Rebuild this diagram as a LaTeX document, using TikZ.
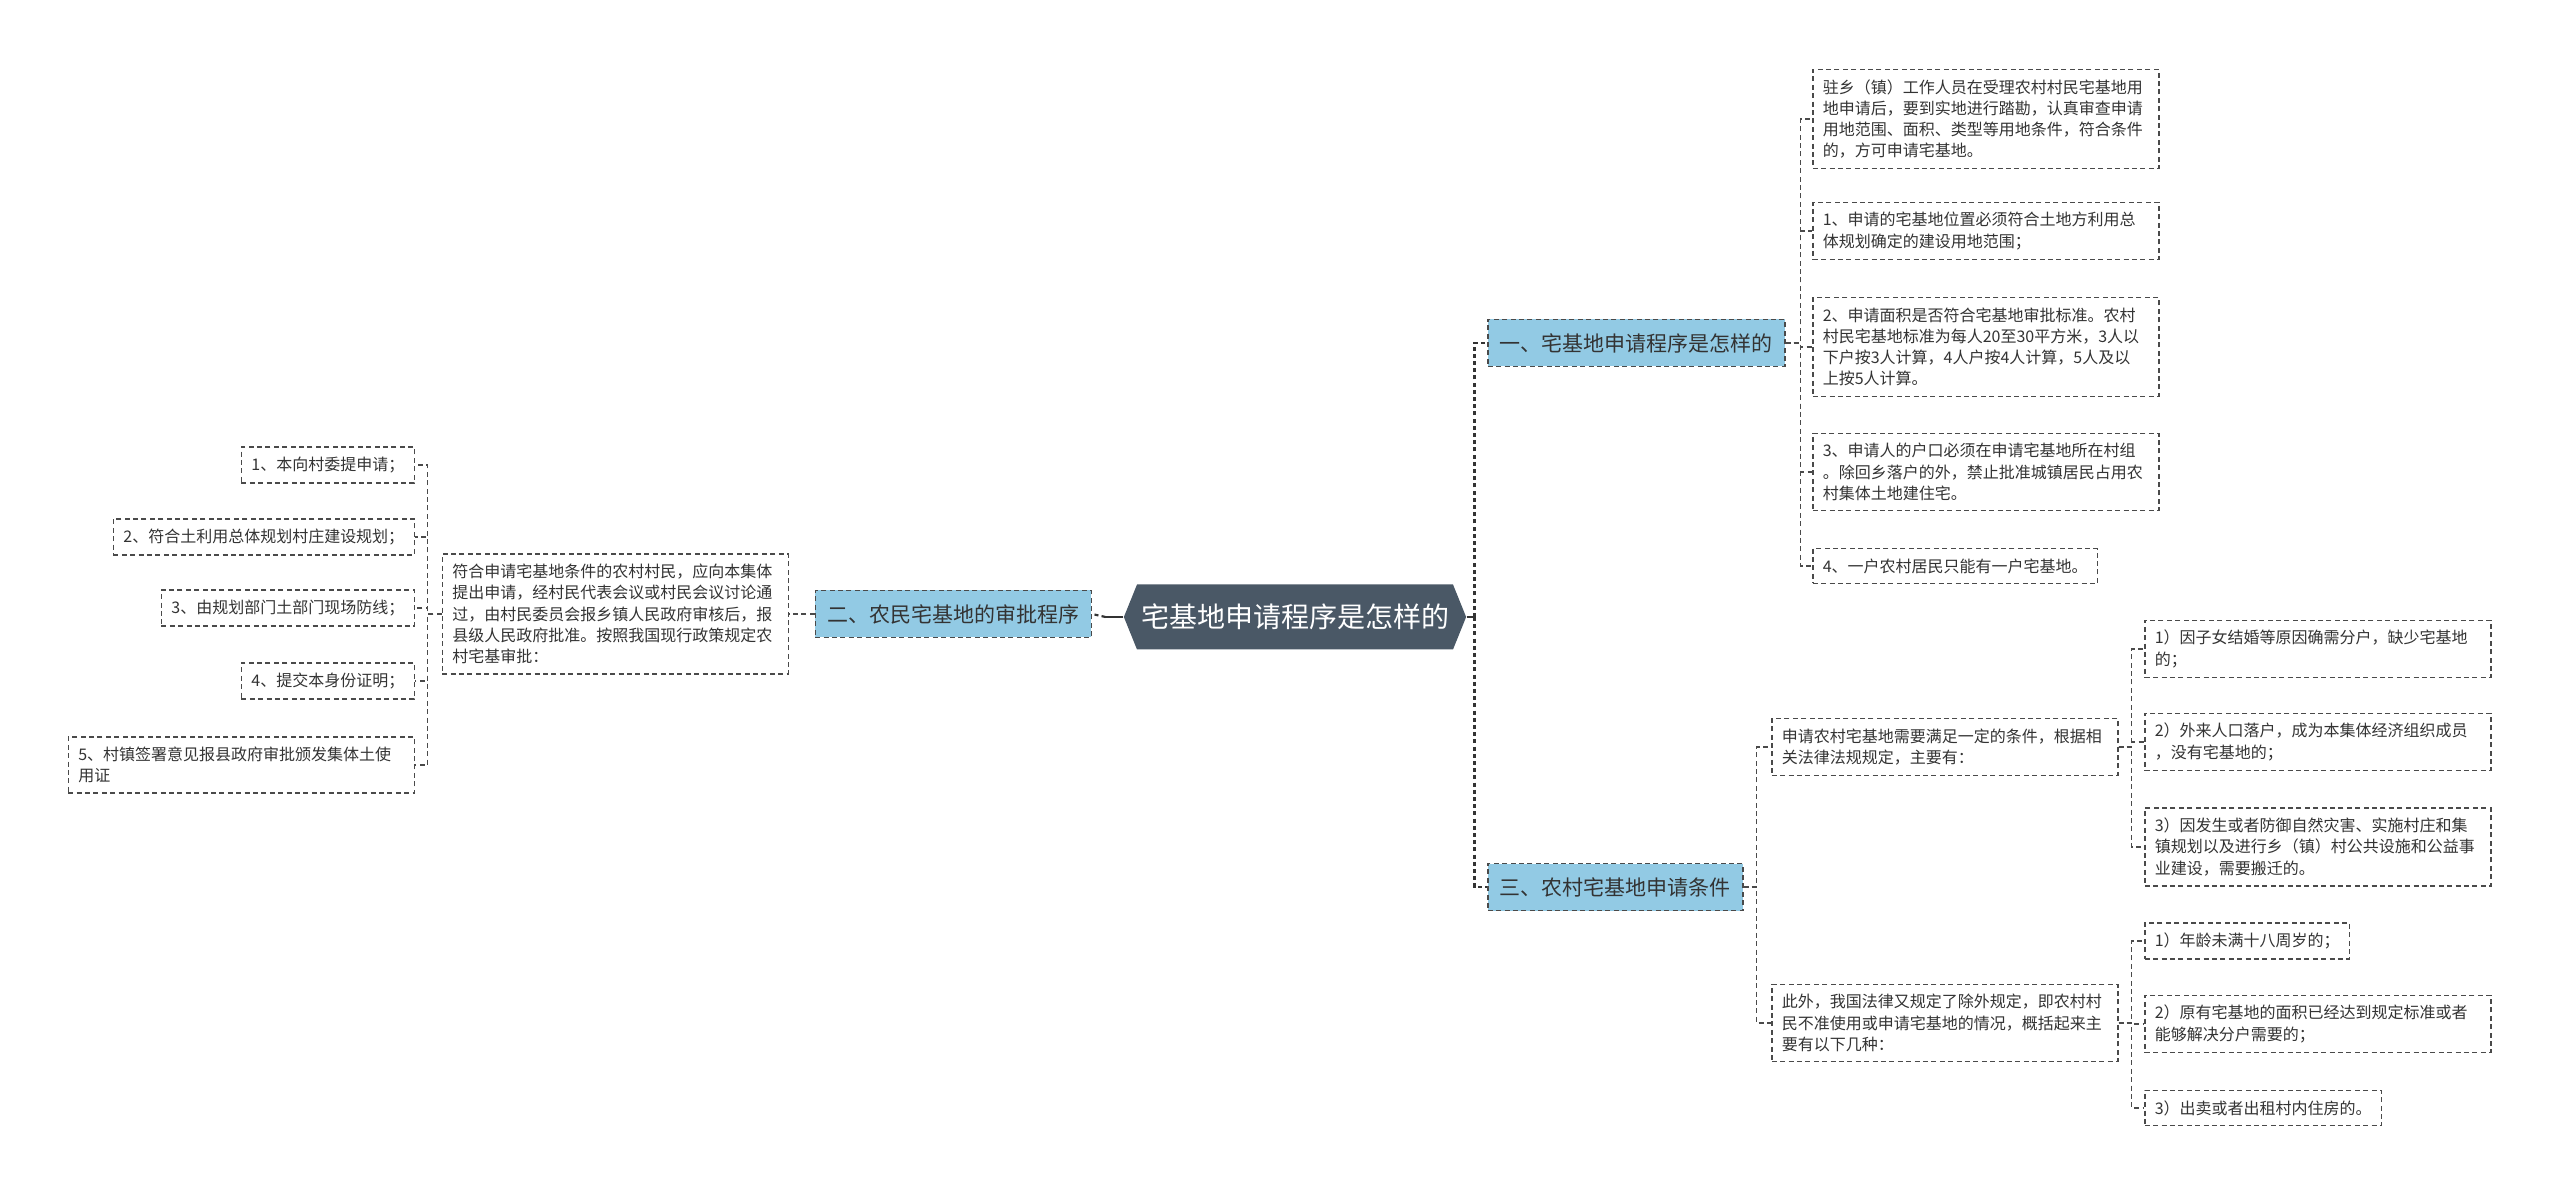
\documentclass[tikz,border=0pt]{standalone}
\usepackage{fontspec}
\setmainfont{Noto Sans CJK SC}
\usetikzlibrary{shapes.symbols, positioning}
\definecolor{rootfill}{HTML}{4A5866}
\definecolor{branchfill}{HTML}{92CAE4}
\definecolor{inkgray}{HTML}{333333}
\definecolor{linegray}{HTML}{4A4A4A}
\tikzset{%
  % Specifications for style of nodes:
  base/.style = {draw=linegray, dash pattern=on 2.5pt off 1.7pt, line width=0.75pt,
                 text=inkgray, align=left},
  root/.style = {shape=signal, signal to=west and east, signal pointer angle=136,
                 fill=rootfill, text=white, font=\fontsize{14}{16}\selectfont,
                 minimum height=32.5pt, inner xsep=2pt},
  branch/.style = {base, fill=branchfill, font=\fontsize{10.5}{12}\selectfont,
                   inner xsep=6pt, minimum height=23.5pt},
  leaf/.style = {base, fill=white, font=\fontsize{8}{10.6}\selectfont,
                 inner xsep=5pt, inner ysep=5pt},
  wide/.style = {leaf, text width=163pt},
  % connectors
  link/.style = {draw=linegray, dash pattern=on 2.5pt off 1.7pt, line width=0.75pt},
  trunk/.style = {draw=inkgray, dash pattern=on 2pt off 1.6pt, line width=1.1pt},
  stem/.style = {draw=inkgray, line width=1pt},
}

\begin{document}
\begin{tikzpicture}[x=0.5pt, y=-0.5pt]
  \fill[white] (0,0) rectangle (2560,1197);
  \useasboundingbox (0,0) rectangle (2560,1197);

  % centre and the three branches
  \node (root) [root] at (1295,617) {宅基地申请程序是怎样的};
  \node (b1) [branch, anchor=west] at (1487,343) {一、宅基地申请程序是怎样的};
  \node (b2) [branch, anchor=east] at (1092,614) {二、农民宅基地的审批程序};
  \node (b3) [branch, anchor=west] at (1487,887) {三、农村宅基地申请条件};

  % branch one
  \node (c1a) [wide, anchor=west] at (1812,119) {驻乡（镇）工作人员在受理农村村民宅基地用\\地申请后，要到实地进行踏勘，认真审查申请\\用地范围、面积、类型等用地条件，符合条件\\的，方可申请宅基地。};
  \node (c1b) [wide, anchor=west] at (1812,231) {1、申请的宅基地位置必须符合土地方利用总\\体规划确定的建设用地范围；};
  \node (c1c) [wide, anchor=west] at (1812,347) {2、申请面积是否符合宅基地审批标准。农村\\村民宅基地标准为每人20至30平方米，3人以\\下户按3人计算，4人户按4人计算，5人及以\\上按5人计算。};
  \node (c1d) [wide, anchor=west] at (1812,472) {3、申请人的户口必须在申请宅基地所在村组\\。除回乡落户的外，禁止批准城镇居民占用农\\村集体土地建住宅。};
  \node (c1e) [leaf, anchor=west] at (1812,566) {4、一户农村居民只能有一户宅基地。};

  % branch two
  \node (big) [wide, anchor=east] at (789,614) {符合申请宅基地条件的农村村民，应向本集体\\提出申请，经村民代表会议或村民会议讨论通\\过，由村民委员会报乡镇人民政府审核后，报\\县级人民政府批准。按照我国现行政策规定农\\村宅基审批：};
  \node (l1) [leaf, anchor=east] at (415,465) {1、本向村委提申请；};
  \node (l2) [leaf, anchor=east] at (415,537) {2、符合土利用总体规划村庄建设规划；};
  \node (l3) [leaf, anchor=east] at (415,608) {3、由规划部门土部门现场防线；};
  \node (l4) [leaf, anchor=east] at (415,681) {4、提交本身份证明；};
  \node (l5) [wide, anchor=east] at (415,765) {5、村镇签署意见报县政府审批颁发集体土使\\用证};

  % branch three
  \node (m1) [wide, anchor=west] at (1771,747) {申请农村宅基地需要满足一定的条件，根据相\\关法律法规规定，主要有：};
  \node (m2) [wide, anchor=west] at (1771,1023) {此外，我国法律又规定了除外规定，即农村村\\民不准使用或申请宅基地的情况，概括起来主\\要有以下几种：};
  \node (n1) [wide, anchor=west] at (2144,649) {1）因子女结婚等原因确需分户，缺少宅基地\\的；};
  \node (n2) [wide, anchor=west] at (2144,742) {2）外来人口落户，成为本集体经济组织成员\\，没有宅基地的；};
  \node (n3) [wide, anchor=west] at (2144,847) {3）因发生或者防御自然灾害、实施村庄和集\\镇规划以及进行乡（镇）村公共设施和公益事\\业建设，需要搬迁的。};
  \node (p1) [leaf, anchor=west] at (2144,941) {1）年龄未满十八周岁的；};
  \node (p2) [wide, anchor=west] at (2144,1024) {2）原有宅基地的面积已经达到规定标准或者\\能够解决分户需要的；};
  \node (p3) [leaf, anchor=west] at (2144,1108) {3）出卖或者出租村内住房的。};

  % connectors from the centre
  \draw[stem] (root.east) -- ++(8,0) coordinate (rr);
  \draw[trunk] (rr) |- (b1.west);
  \draw[trunk] (rr) |- (b3.west);
  \draw[stem] (root.west) -- ++(-18,0) coordinate (rl);
  \draw[trunk] (rl) -- (b2.east);

  % connectors to the leaves
  \foreach \c in {c1a,c1b,c1c,c1d,c1e}
    \draw[link] (b1.east) -- ++(15,0) |- (\c.west);
  \draw[link] (b2.west) -- (big.east);
  \foreach \c in {l1,l2,l3,l4,l5}
    \draw[link] (big.west) -- ++(-14,0) |- (\c.east);
  \foreach \c in {m1,m2}
    \draw[link] (b3.east) -- ++(13,0) |- (\c.west);
  \foreach \c in {n1,n2,n3}
    \draw[link] (m1.east) -- ++(13,0) |- (\c.west);
  \foreach \c in {p1,p2,p3}
    \draw[link] (m2.east) -- ++(13,0) |- (\c.west);
\end{tikzpicture}
\end{document}
